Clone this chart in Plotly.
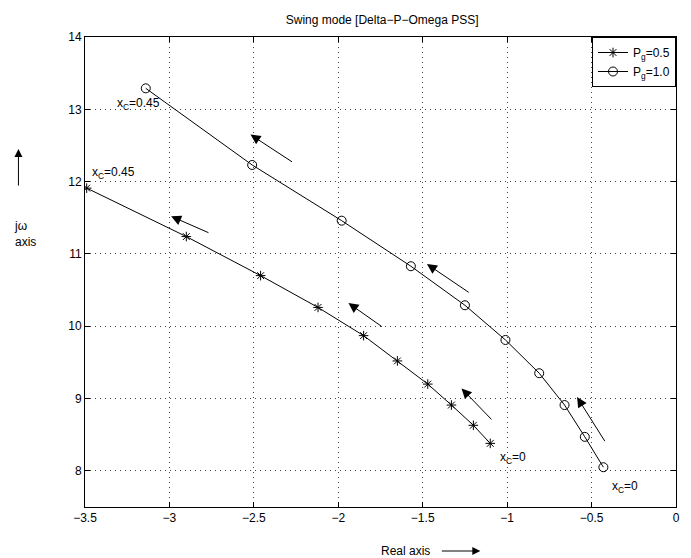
import plotly.graph_objects as go

# Data
pg05_x = [-3.49, -2.90, -2.46, -2.12, -1.85, -1.65, -1.47, -1.33, -1.20, -1.10]
pg05_y = [11.91, 11.24, 10.70, 10.26, 9.87, 9.52, 9.20, 8.91, 8.63, 8.38]
pg10_x = [-3.14, -2.51, -1.98, -1.57, -1.25, -1.01, -0.81, -0.66, -0.54, -0.43]
pg10_y = [13.29, 12.23, 11.46, 10.83, 10.29, 9.81, 9.35, 8.91, 8.47, 8.05]

# direction arrows: (head_x, head_y, tail_x, tail_y)
arrow_head_x = [-2.99, -2.52, -1.94, -1.475, -1.27, -0.586]
arrow_head_y = [11.52, 12.65, 10.32, 10.86, 9.14, 9.02]
arrow_tail_x = [-2.76, -2.265, -1.733, -1.219, -1.084, -0.416]
arrow_tail_y = [11.285, 12.26, 9.98, 10.455, 8.69, 8.39]

# text labels
label_text = ["x<sub>C</sub>=0.45", "x<sub>C</sub>=0.45", "x<sub>C</sub>=0", "x<sub>C</sub>=0"]
label_x = [-3.324, -3.472, -1.053, -0.39]
label_y = [13.07, 12.12, 8.18, 7.78]

FONT = "Liberation Sans, Arial, Helvetica, sans-serif"

fig = go.Figure()
fig.add_trace(go.Scatter(
    x=pg05_x, y=pg05_y, mode="lines+markers", name="P<sub>g</sub>=0.5",
    line=dict(color="black", width=1),
    marker=dict(symbol="asterisk-open", size=8, color="black",
                line=dict(color="black", width=1)),
))
fig.add_trace(go.Scatter(
    x=pg10_x, y=pg10_y, mode="lines+markers", name="P<sub>g</sub>=1.0",
    line=dict(color="black", width=1),
    marker=dict(symbol="circle-open", size=9, color="black",
                line=dict(color="black", width=1)),
))

annotations = []
for hx, hy, tx, ty in zip(arrow_head_x, arrow_head_y, arrow_tail_x, arrow_tail_y):
    annotations.append(dict(
        x=hx, y=hy, ax=tx, ay=ty, xref="x", yref="y", axref="x", ayref="y",
        text="", showarrow=True, arrowhead=2, arrowsize=2, arrowwidth=1,
        arrowcolor="black", standoff=0, startstandoff=0,
    ))
for t, lx, ly in zip(label_text, label_x, label_y):
    annotations.append(dict(
        x=lx, y=ly, xref="x", yref="y", text=t, showarrow=False,
        xanchor="left", yanchor="middle", font=dict(size=12, color="black"),
    ))

# axis titles with arrows (MATLAB-style)
annotations.append(dict(
    x=(407.5 - 85) / 595, y=(507 - 551) / 470, xref="paper", yref="paper",
    text="Real axis", showarrow=False, xanchor="center", yanchor="middle",
    font=dict(size=12, color="black"),
))
annotations.append(dict(
    x=(483 - 85) / 595, y=(507 - 551) / 470, xref="paper", yref="paper",
    ax=-40, ay=0, text="", showarrow=True, arrowhead=2, arrowsize=1.6,
    arrowwidth=1, arrowcolor="black", standoff=0,
))
annotations.append(dict(
    x=(12 - 85) / 595, y=(507 - 234) / 470, xref="paper", yref="paper",
    text="jω<br>axis", showarrow=False, xanchor="left", yanchor="middle",
    align="left", font=dict(size=12, color="black"),
))
annotations.append(dict(
    x=(18 - 85) / 595, y=(507 - 149) / 470, xref="paper", yref="paper",
    ax=0, ay=38, text="", showarrow=True, arrowhead=2, arrowsize=1.6,
    arrowwidth=1, arrowcolor="black", standoff=0,
))

axis_common = dict(
    showline=True, linecolor="black", linewidth=1, mirror="ticks",
    ticks="inside", ticklen=5, tickcolor="black", tickwidth=1,
    showgrid=True, gridcolor="#444444", gridwidth=1, griddash="1px,4px",
    zeroline=False, tickfont=dict(size=12, color="black"),
)

fig.update_layout(
    width=691, height=558, autosize=False,
    margin=dict(l=85, r=11, t=37, b=51),
    paper_bgcolor="white", plot_bgcolor="white",
    font=dict(family=FONT, color="black", size=12),
    title=dict(text="Swing mode [Delta−P−Omega PSS]", x=0.553, xanchor="center",
               y=1 - 20 / 558, yanchor="middle", font=dict(size=12)),
    xaxis=dict(range=[-3.5, 0], dtick=0.5, tick0=0, **axis_common),
    yaxis=dict(range=[7.5, 14], dtick=1, tick0=0, **axis_common),
    showlegend=True,
    legend=dict(x=1, y=1, xanchor="right", yanchor="top",
                xref="paper", yref="paper",
                bgcolor="white", bordercolor="black", borderwidth=1,
                font=dict(size=12), tracegroupgap=0, itemwidth=30),
    annotations=annotations,
)

fig.write_html("out.html")
